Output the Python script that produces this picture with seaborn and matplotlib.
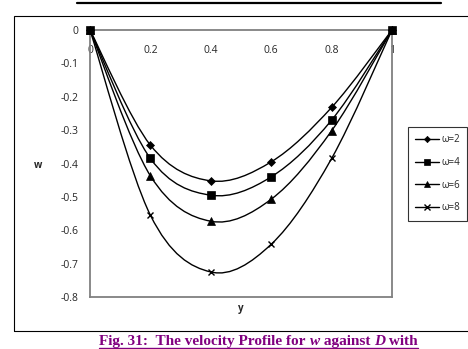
import numpy as np
import pandas as pd
import matplotlib
matplotlib.use("Agg")
import matplotlib.pyplot as plt
import seaborn as sns
from matplotlib.path import Path
from matplotlib.patches import PathPatch
from matplotlib.lines import Line2D

# ---- data ----
y_vals = [0.0, 0.2, 0.4, 0.6, 0.8, 1.0]
w_omega2 = [0.0, -0.345, -0.452, -0.395, -0.232, 0.0]
w_omega4 = [0.0, -0.385, -0.495, -0.440, -0.270, 0.0]
w_omega6 = [0.0, -0.437, -0.573, -0.507, -0.302, 0.0]
w_omega8 = [0.0, -0.555, -0.725, -0.642, -0.385, 0.0]
series_labels = ["ω=2", "ω=4", "ω=6", "ω=8"]
y_ticks = [0, -0.1, -0.2, -0.3, -0.4, -0.5, -0.6, -0.7, -0.8]
x_ticks = [0, 0.2, 0.4, 0.6, 0.8, 1]
x_tick_labels = ["0", "0.2", "0.4", "0.6", "0.8", "1"]
y_tick_labels = ["0", "-0.1", "-0.2", "-0.3", "-0.4", "-0.5", "-0.6", "-0.7", "-0.8"]

sns.set_style("white")
plt.rcParams['font.family'] = ['Open Sans', 'DejaVu Sans']

W, H = 468, 349
fig = plt.figure(figsize=(W / 100, H / 100), dpi=100)

def fx(px):
    return px / W
def fy(py):
    return 1 - py / H

ax = fig.add_axes([fx(90), fy(297), (392 - 90) / W, (297 - 30) / H])

rows = []
for lab, vals in zip(series_labels, [w_omega2, w_omega4, w_omega6, w_omega8]):
    for yv, wv in zip(y_vals, vals):
        rows.append({"y": yv, "w": wv, "series": lab})
df = pd.DataFrame(rows)

markers = {"ω=2": "D", "ω=4": "s", "ω=6": "^", "ω=8": "x"}
msizes = {"ω=2": 4, "ω=4": 5.5, "ω=6": 5.5, "ω=8": 5}
mzorder = {"ω=2": 3, "ω=4": 6, "ω=6": 4, "ω=8": 3.5}


def smooth_path(xs, ys):
    # Excel-like Bezier smoothing between data points
    pts = np.column_stack([xs, ys])
    n = len(pts)
    verts = [tuple(pts[0])]
    codes = [Path.MOVETO]
    for i in range(n - 1):
        p0 = pts[i - 1] if i > 0 else pts[i]
        p1 = pts[i]
        p2 = pts[i + 1]
        p3 = pts[i + 2] if i + 2 < n else pts[i + 1]
        c1 = p1 + (p2 - p0) / 6
        c2 = p2 - (p3 - p1) / 6
        verts += [tuple(c1), tuple(c2), tuple(p2)]
        codes += [Path.CURVE4] * 3
    return Path(verts, codes)

for lab in series_labels:
    sub = df[df.series == lab]
    ax.add_patch(PathPatch(smooth_path(sub.y.values, sub.w.values),
                           fill=False, edgecolor="black", lw=1.0, zorder=2))

for lab in series_labels:
    sub = df[df.series == lab]
    sns.lineplot(data=sub, x="y", y="w", ax=ax, linestyle="none",
                 marker=markers[lab], markersize=msizes[lab], color="black",
                 markeredgecolor="black", markeredgewidth=1.0 if lab == "ω=8" else 0.5,
                 legend=False, zorder=mzorder[lab], clip_on=False)

ax.set_xlim(0, 1)
ax.set_ylim(-0.8, 0)
ax.set_xticks(x_ticks)
ax.set_xticklabels(x_tick_labels)
ax.set_yticks(y_ticks)
ax.set_yticklabels(y_tick_labels)
ax.set_xlabel("")
ax.set_ylabel("")
for s in ax.spines.values():
    s.set_color("#808080")
    s.set_linewidth(1.3)
ax.tick_params(axis="y", left=False, length=0, labelsize=7.5, pad=8.5)
ax.tick_params(axis="x", bottom=False, top=False, labelbottom=False, labeltop=True,
               labelsize=7.5, pad=-14.5)
for t in ax.get_xticklabels():
    t.set_verticalalignment("top")

# axis titles
fig.text(fx(38), fy(166), "w", fontsize=7, fontweight="bold", ha="center", va="center")
fig.text(fx(241), fy(309), "y", fontsize=7, fontweight="bold", ha="center", va="center")

# legend
handles = [Line2D([0], [0], color="black", lw=1.0, marker=markers[l],
                  markersize=msizes[l] - 0.8, markeredgewidth=1.0 if l == "ω=8" else 0.5)
           for l in series_labels]
leg = fig.legend(handles, series_labels, loc="upper left",
                 bbox_to_anchor=(fx(408), fy(127)), fontsize=7,
                 frameon=True, fancybox=False, handlelength=2.4,
                 handletextpad=0.25, labelspacing=1.2, borderpad=0.75,
                 borderaxespad=0)
leg.get_frame().set_edgecolor("black")
leg.get_frame().set_linewidth(0.8)

# chart border
fig.add_artist(plt.Rectangle((fx(14), fy(331)), 1.2, (331 - 15.5) / H,
                             transform=fig.transFigure, fill=False,
                             edgecolor="black", lw=0.8))
# top rule
fig.add_artist(Line2D([fx(77), fx(441)], [fy(2.7), fy(2.7)], color="black", lw=1.6,
                      transform=fig.transFigure))

# caption with mixed styles
purple = "#800080"
pieces = [("Fig. 31:  The velocity Profile for ", "normal"), ("w", "italic"),
          (" against ", "normal"), ("D", "italic"), (" with", "normal")]
fig.canvas.draw()
renderer = fig.canvas.get_renderer()
texts = []
widths = []
for s, st in pieces:
    t = fig.text(0, fy(345), s, fontsize=11, fontweight="bold", fontstyle=st,
                 family="Liberation Serif", color=purple, ha="left", va="baseline")
    texts.append(t)
    widths.append(t.get_window_extent(renderer).width)
total = sum(widths)
x0 = 258.5 - total / 2
cur = x0
for t, w_ in zip(texts, widths):
    t.set_x(fx(cur))
    cur += w_
fig.add_artist(Line2D([fx(x0), fx(x0 + total)], [fy(347.5), fy(347.5)], color=purple,
                      lw=1.0, transform=fig.transFigure))

fig.savefig("out.png", dpi=100)
